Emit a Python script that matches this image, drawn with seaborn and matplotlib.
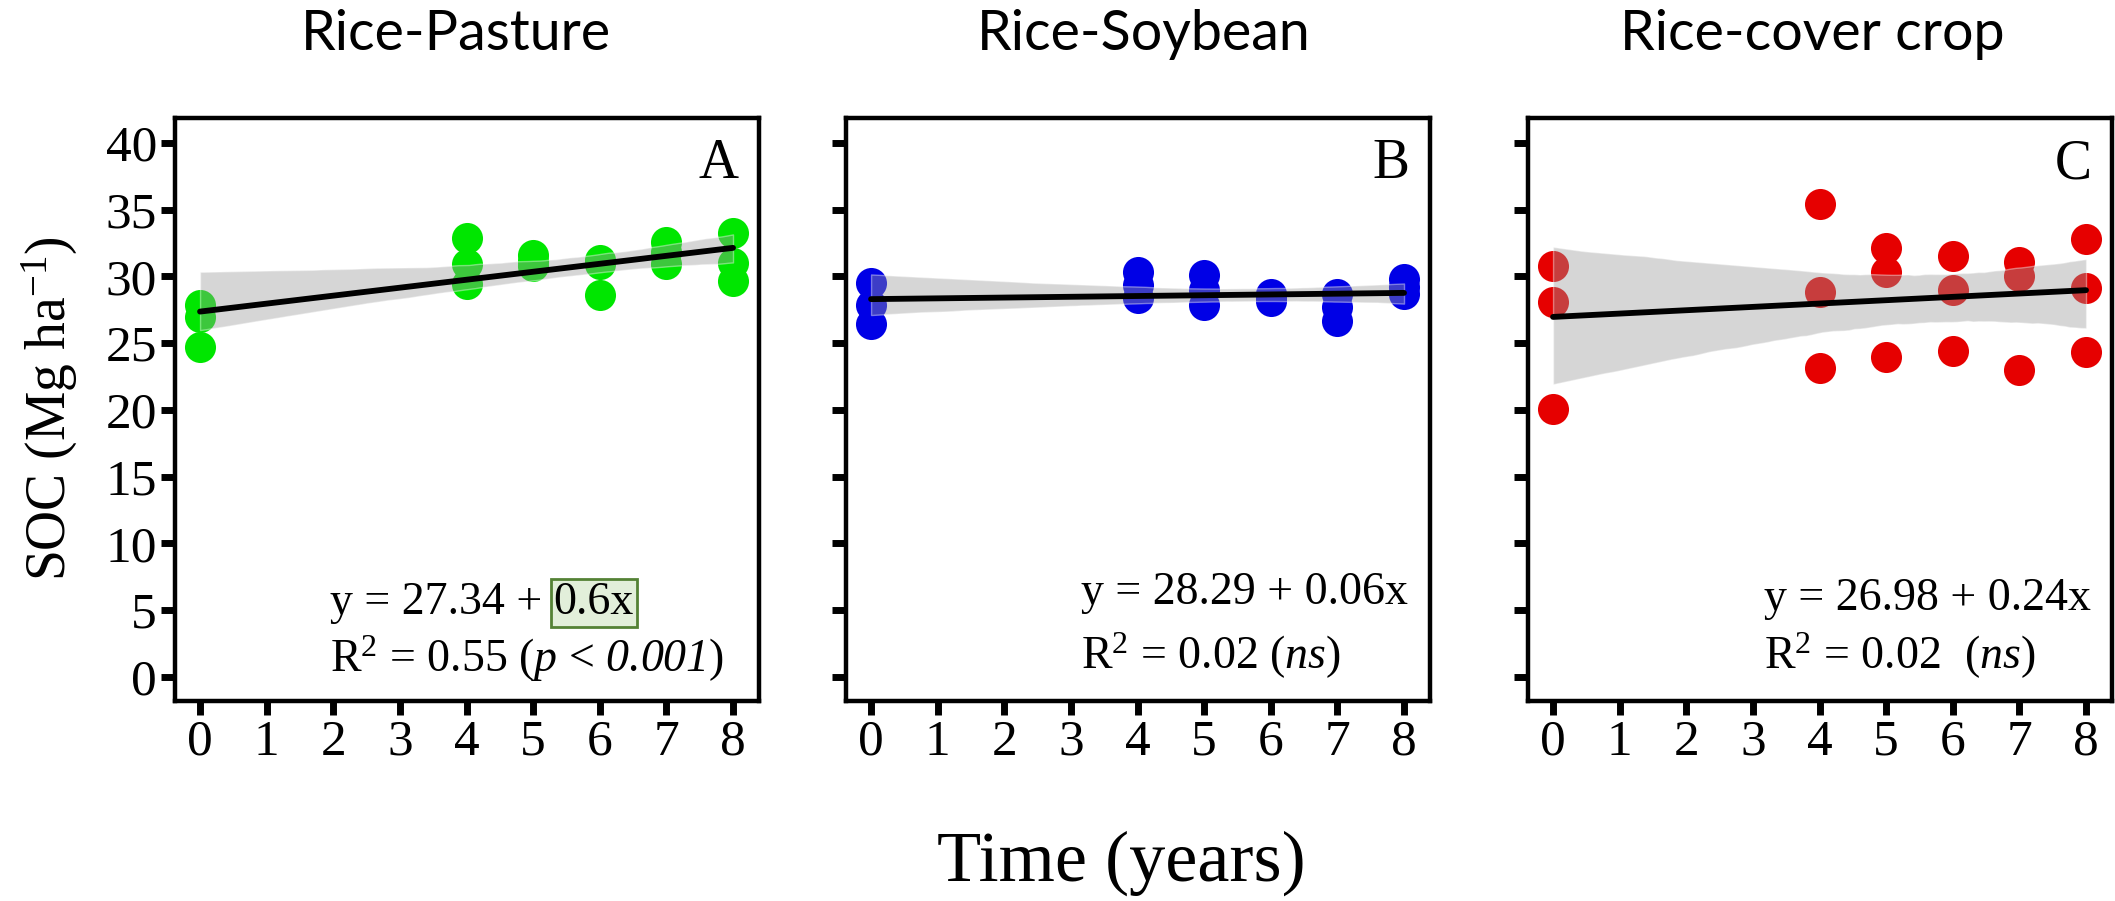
import matplotlib
matplotlib.use("Agg")
import matplotlib.pyplot as plt
import numpy as np
import pandas as pd
import seaborn as sns
from matplotlib.collections import PolyCollection

# Soil organic carbon (Mg ha-1) sampled over time in three rice rotations
years = [0, 0, 0, 4, 4, 4, 5, 5, 5, 6, 6, 6, 7, 7, 7, 8, 8, 8]
soc_pasture = [27.9, 27.0, 24.75, 32.9, 30.9, 29.45, 31.6, 31.15, 30.75,
               31.2, 30.9, 28.6, 32.6, 31.8, 30.95, 33.25, 31.0, 29.65]
soc_soybean = [29.5, 27.9, 26.45, 30.3, 29.35, 28.35, 30.1, 29.0, 27.85,
               28.65, 28.4, 28.15, 28.65, 27.75, 26.65, 29.8, 29.2, 28.65]
soc_cover = [30.75, 28.1, 20.05, 35.4, 28.85, 23.15, 32.1, 30.35, 23.95,
             31.5, 29.0, 24.4, 31.1, 30.05, 23.0, 32.8, 29.1, 24.35]

systems = ["Rice-Pasture", "Rice-Soybean", "Rice-cover crop"]
panel_letters = ["A", "B", "C"]
point_colors = ["#00e600", "#0000e6", "#e60000"]
eq_main = ["y = 27.34 + ", "y = 28.29 + 0.06x", "y = 26.98 + 0.24x"]
eq_highlight = ["0.6x", "", ""]
# \mathsf is mapped to the italic serif face so that digits come out slanted
r2_labels = [r"R$^{2}$ = 0.55 ($p$ < $\mathsf{0.001}$)",
             r"R$^{2}$ = 0.02 ($ns$)",
             r"R$^{2}$ = 0.02  ($ns$)"]
x_ticks = [0, 1, 2, 3, 4, 5, 6, 7, 8]
y_ticks = [0, 5, 10, 15, 20, 25, 30, 35, 40]

df = pd.DataFrame({
    "Time": years * 3,
    "SOC": soc_pasture + soc_soybean + soc_cover,
    "System": np.repeat(systems, len(years)),
})

sns.set_theme(style="ticks")
plt.rcParams["font.family"] = ["Liberation Serif", "DejaVu Serif"]
plt.rcParams["mathtext.fontset"] = "custom"
plt.rcParams["mathtext.rm"] = "Liberation Serif"
plt.rcParams["mathtext.it"] = "Liberation Serif:italic"
plt.rcParams["mathtext.sf"] = "Liberation Serif:italic"
plt.rcParams["mathtext.bf"] = "Liberation Serif:bold"

fig = plt.figure(figsize=(21.15, 9.01), dpi=100)
lefts = [175 / 2115, 846 / 2115, 1528 / 2115]
width = 584 / 2115
bottom = 200 / 901
height = 583 / 901

# equation placement (data coords): x of line start, baselines of both lines
eq_x = [1.95, 3.15, 3.17]
eq_y1 = [4.7, 5.5, 5.0]
eq_y2 = [0.4, 0.6, 0.6]
title_x = [456, 1144, 1812]

for i, system in enumerate(systems):
    ax = fig.add_axes([lefts[i], bottom, width, height])
    sub = df[df["System"] == system]
    sns.regplot(data=sub, x="Time", y="SOC", ax=ax, ci=95, n_boot=1000, seed=3,
                truncate=True, color=point_colors[i],
                scatter_kws=dict(s=500, alpha=1, linewidths=0, zorder=2),
                line_kws=dict(color="black", lw=4.2, zorder=4))
    for coll in ax.collections:
        if isinstance(coll, PolyCollection):
            coll.set_facecolor("#999999")
            coll.set_alpha(0.4)
            coll.set_zorder(3)

    ax.set_xlim(-0.376, 8.39)
    ax.set_ylim(-1.8, 41.87)
    ax.set_xticks(x_ticks)
    ax.set_yticks(y_ticks)
    ax.set_xlabel("")
    ax.set_ylabel("")
    for sp in ax.spines.values():
        sp.set_visible(True)
        sp.set_linewidth(3.2)
        sp.set_color("black")
    ax.tick_params(direction="out", length=10, width=5, color="black",
                   labelsize=37, labelcolor="black", pad=3)
    if i > 0:
        ax.tick_params(axis="y", labelleft=False)

    ax.text(0.965, 0.965, panel_letters[i], transform=ax.transAxes,
            ha="right", va="top", fontsize=40, color="black")

    t1 = ax.text(eq_x[i], eq_y1[i], eq_main[i], ha="left", va="baseline",
                 fontsize=33, color="black", zorder=6)
    if eq_highlight[i]:
        ax.annotate(eq_highlight[i], xy=(1, 0), xycoords=t1, ha="left",
                    va="bottom", fontsize=33, color="black", zorder=6,
                    bbox=dict(boxstyle="square,pad=0.06", fc="#e2efda",
                              ec="#548235", lw=2))
    ax.text(eq_x[i], eq_y2[i], r2_labels[i], ha="left", va="baseline",
            fontsize=33, color="black", zorder=6)

    fig.text(title_x[i] / 2115, 1 - 50 / 901, system, ha="center",
             va="baseline", fontsize=40, family=["Lato", "DejaVu Sans"],
             color="black")

fig.text(1121 / 2115, 1 - 863 / 901, "Time (years)", ha="center", va="center",
         fontsize=52, color="black")
fig.text(50 / 2115, 1 - 409 / 901, r"SOC (Mg ha$^{-1}$)", ha="center",
         va="center", rotation=90, fontsize=40, color="black")

fig.savefig("out.png", dpi=100)
